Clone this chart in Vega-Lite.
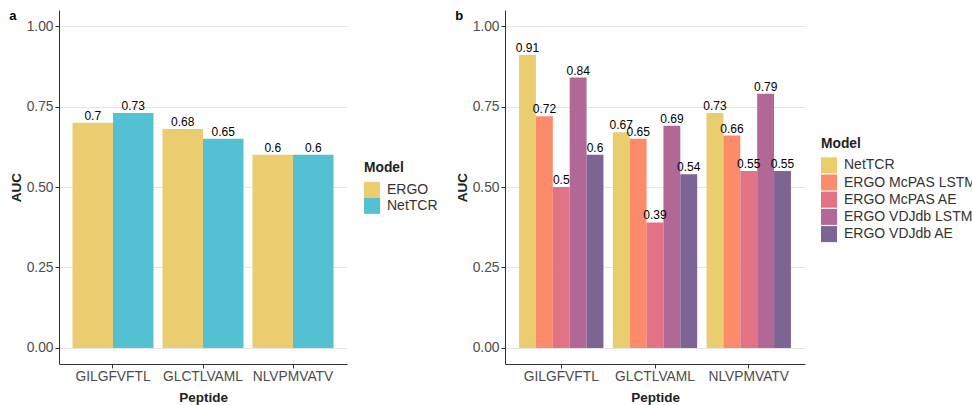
{
  "$schema": "https://vega.github.io/schema/vega-lite/v6.json",
  "padding": {"left": 9, "top": 10, "right": 0, "bottom": 0},
  "spacing": 17,
  "datasets": {
    "twoModels": [
      {"Peptide": "GILGFVFTL", "Model": "ERGO", "AUC": 0.70},
      {"Peptide": "GILGFVFTL", "Model": "NetTCR", "AUC": 0.73},
      {"Peptide": "GLCTLVAML", "Model": "ERGO", "AUC": 0.68},
      {"Peptide": "GLCTLVAML", "Model": "NetTCR", "AUC": 0.65},
      {"Peptide": "NLVPMVATV", "Model": "ERGO", "AUC": 0.60},
      {"Peptide": "NLVPMVATV", "Model": "NetTCR", "AUC": 0.60}
    ],
    "fiveModels": [
      {"Peptide": "GILGFVFTL", "Model": "NetTCR", "AUC": 0.91},
      {"Peptide": "GILGFVFTL", "Model": "ERGO McPAS LSTM", "AUC": 0.72},
      {"Peptide": "GILGFVFTL", "Model": "ERGO McPAS AE", "AUC": 0.50},
      {"Peptide": "GILGFVFTL", "Model": "ERGO VDJdb LSTM", "AUC": 0.84},
      {"Peptide": "GILGFVFTL", "Model": "ERGO VDJdb AE", "AUC": 0.60},
      {"Peptide": "GLCTLVAML", "Model": "NetTCR", "AUC": 0.67},
      {"Peptide": "GLCTLVAML", "Model": "ERGO McPAS LSTM", "AUC": 0.65},
      {"Peptide": "GLCTLVAML", "Model": "ERGO McPAS AE", "AUC": 0.39},
      {"Peptide": "GLCTLVAML", "Model": "ERGO VDJdb LSTM", "AUC": 0.69},
      {"Peptide": "GLCTLVAML", "Model": "ERGO VDJdb AE", "AUC": 0.54},
      {"Peptide": "NLVPMVATV", "Model": "NetTCR", "AUC": 0.73},
      {"Peptide": "NLVPMVATV", "Model": "ERGO McPAS LSTM", "AUC": 0.66},
      {"Peptide": "NLVPMVATV", "Model": "ERGO McPAS AE", "AUC": 0.55},
      {"Peptide": "NLVPMVATV", "Model": "ERGO VDJdb LSTM", "AUC": 0.79},
      {"Peptide": "NLVPMVATV", "Model": "ERGO VDJdb AE", "AUC": 0.55}
    ]
  },
  "config": {
    "font": "Liberation Sans",
    "view": {"stroke": null},
    "axis": {
      "labelFont": "Liberation Sans",
      "labelFontSize": 13.8,
      "labelColor": "#4D4D4D",
      "titleFont": "Liberation Sans",
      "titleFontSize": 13.5,
      "titleFontWeight": "bold",
      "titleColor": "#222222",
      "domainColor": "#333333",
      "domainWidth": 1,
      "tickColor": "#333333",
      "tickWidth": 1,
      "tickSize": 4,
      "gridColor": "#E4E4E4",
      "gridWidth": 1
    },
    "legend": {
      "titleFont": "Liberation Sans",
      "titleFontSize": 13.8,
      "titleFontWeight": "bold",
      "titleColor": "#222222",
      "titlePadding": 7,
      "labelFont": "Liberation Sans",
      "labelFontSize": 14,
      "labelColor": "#333333",
      "labelOffset": 7,
      "symbolType": "square",
      "symbolSize": 256,
      "symbolStrokeWidth": 0,
      "padding": 0,
      "orient": "none"
    },
    "title": {
      "anchor": "start",
      "frame": "bounds",
      "fontSize": 13,
      "fontWeight": "bold",
      "color": "#000000",
      "baseline": "alphabetic",
      "offset": -13
    }
  },
  "hconcat": [
    {
      "title": "a",
      "width": 288,
      "height": 354,
      "data": {"name": "twoModels"},
      "encoding": {
        "x": {
          "field": "Peptide",
          "type": "nominal",
          "scale": {"paddingInner": 0.1, "paddingOuter": 0.15},
          "axis": {"labelAngle": 0, "labelPadding": 1, "titlePadding": 8}
        },
        "xOffset": {"field": "Model", "type": "nominal", "sort": ["ERGO", "NetTCR"]},
        "y": {
          "field": "AUC",
          "type": "quantitative",
          "scale": {"domain": [-0.05, 1.05], "nice": false, "zero": false},
          "axis": {"values": [0, 0.25, 0.5, 0.75, 1], "format": ".2f", "grid": true, "labelPadding": 2, "titlePadding": 3}
        }
      },
      "layer": [
        {
          "mark": {"type": "bar"},
          "encoding": {
            "color": {
              "field": "Model",
              "type": "nominal",
              "scale": {"domain": ["ERGO", "NetTCR"], "range": ["#EACD6F", "#53C1D2"]},
              "legend": {"title": "Model", "legendX": 305, "legendY": 151, "rowPadding": 0}
            }
          }
        },
        {
          "mark": {"type": "text", "baseline": "alphabetic", "dy": -3, "fontSize": 12, "color": "#000000"},
          "encoding": {"text": {"field": "AUC", "type": "quantitative", "format": ".2~f"}}
        }
      ]
    },
    {
      "title": "b",
      "width": 300,
      "height": 354,
      "data": {"name": "fiveModels"},
      "encoding": {
        "x": {
          "field": "Peptide",
          "type": "nominal",
          "scale": {"paddingInner": 0.1, "paddingOuter": 0.15},
          "axis": {"labelAngle": 0, "labelPadding": 1, "titlePadding": 8}
        },
        "xOffset": {
          "field": "Model",
          "type": "nominal",
          "sort": ["NetTCR", "ERGO McPAS LSTM", "ERGO McPAS AE", "ERGO VDJdb LSTM", "ERGO VDJdb AE"]
        },
        "y": {
          "field": "AUC",
          "type": "quantitative",
          "scale": {"domain": [-0.05, 1.05], "nice": false, "zero": false},
          "axis": {"values": [0, 0.25, 0.5, 0.75, 1], "format": ".2f", "grid": true, "labelPadding": 2, "titlePadding": 3}
        }
      },
      "layer": [
        {
          "mark": {"type": "bar"},
          "encoding": {
            "color": {
              "field": "Model",
              "type": "nominal",
              "scale": {
                "domain": ["NetTCR", "ERGO McPAS LSTM", "ERGO McPAS AE", "ERGO VDJdb LSTM", "ERGO VDJdb AE"],
                "range": ["#EACD6F", "#FC8B6A", "#E27387", "#B16896", "#7C6592"]
              },
              "legend": {"title": "Model", "legendX": 316, "legendY": 126.5, "rowPadding": 1.2}
            }
          }
        },
        {
          "mark": {"type": "text", "baseline": "alphabetic", "dy": -3, "fontSize": 12, "color": "#000000"},
          "encoding": {"text": {"field": "AUC", "type": "quantitative", "format": ".2~f"}}
        }
      ]
    }
  ],
  "resolve": {"scale": {"color": "independent", "x": "independent", "y": "independent", "xOffset": "independent"}}
}
